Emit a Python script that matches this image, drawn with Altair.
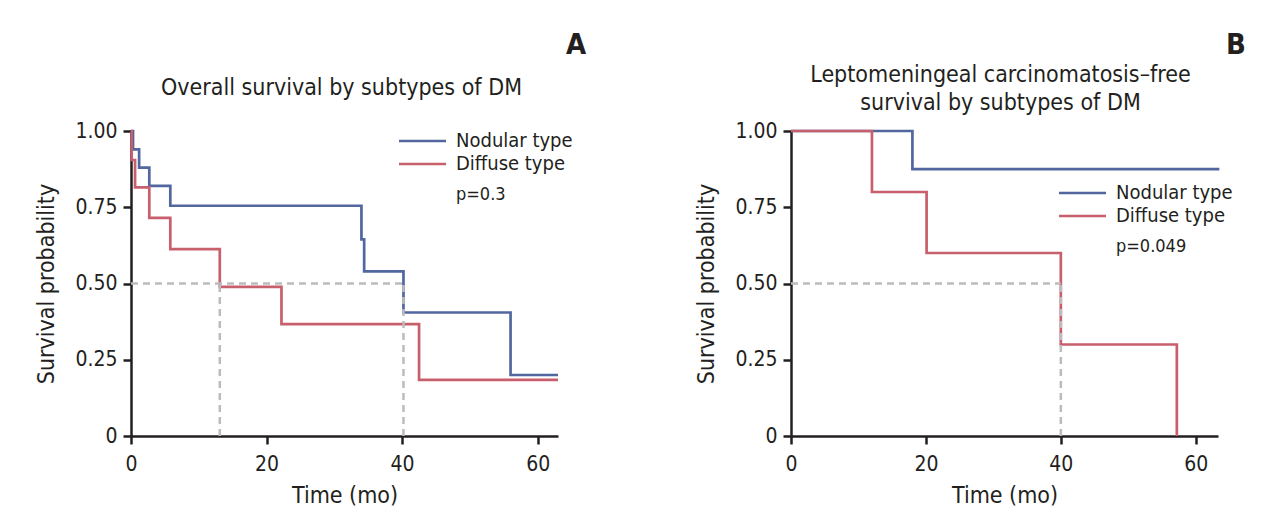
import altair as alt
import pandas as pd

FONT = "Liberation Sans Narrow, DejaVu Sans Condensed, Roboto, sans-serif"
BLUE = "#5266a0"
RED = "#c75f6c"
GRAY = "#bcbcbc"
INK = "#231f20"

GROUPS = ["Nodular type", "Diffuse type"]

# Panel A: overall survival
A_nod_t = [0, 0.3, 1.2, 2.7, 5.8, 34.0, 34.4, 40.2, 56.0, 63.0]
A_nod_s = [1.0, 0.94, 0.88, 0.82, 0.755, 0.645, 0.54, 0.405, 0.20, 0.20]
A_dif_t = [0, 0.1, 0.6, 2.7, 5.8, 13.1, 22.2, 42.5, 63.0]
A_dif_s = [1.0, 0.905, 0.815, 0.715, 0.613, 0.489, 0.367, 0.184, 0.184]
A_medians = [13.1, 40.2]
A_p = "p=0.3"
A_title = ["Overall survival by subtypes of DM"]

# Panel B: leptomeningeal carcinomatosis-free survival
B_nod_t = [0, 18.0, 63.5]
B_nod_s = [1.0, 0.875, 0.875]
B_dif_t = [0, 12.0, 20.1, 40.0, 57.2]
B_dif_s = [1.0, 0.80, 0.60, 0.30, 0.0]
B_medians = [40.0]
B_p = "p=0.049"
B_title = ["Leptomeningeal carcinomatosis\u2013free", "survival by subtypes of DM"]

X_TICKS = [0, 20, 40, 60]
Y_TICKS = [0, 0.25, 0.5, 0.75, 1.0]

W, H = 427, 305
color_scale = alt.Scale(domain=GROUPS, range=[BLUE, RED])
ONE = pd.DataFrame({"k": [0]})


def txt(s, x, y, size, weight="normal", align="left"):
    return alt.Chart(ONE).mark_text(
        align=align, baseline="middle", fontSize=size, fontWeight=weight, font=FONT, color=INK, text=s
    ).encode(x=alt.value(x), y=alt.value(y))


def panel(nod_t, nod_s, dif_t, dif_s, medians, ptxt, title_lines, letter, xmax, leg_y0, p_y):
    curves = pd.concat([
        pd.DataFrame({"t": nod_t, "s": nod_s, "g": GROUPS[0]}),
        pd.DataFrame({"t": dif_t, "s": dif_s, "g": GROUPS[1]}),
    ])
    xs = alt.Scale(domain=[0, xmax], nice=False)
    ys = alt.Scale(domain=[0, 1], nice=False)
    xax = alt.Axis(values=X_TICKS, title="Time (mo)", format="d", labelFlush=False)
    yax = alt.Axis(values=Y_TICKS, title="Survival probability", labelFlush=False,
                   labelExpr="datum.value == 0 ? '0' : format(datum.value, '.2f')")

    base = alt.Chart(curves).mark_line(interpolate="step-after", strokeWidth=2.7).encode(
        x=alt.X("t:Q", scale=xs, axis=xax),
        y=alt.Y("s:Q", scale=ys, axis=yax),
        color=alt.Color("g:N", scale=color_scale, legend=None),
        order="t:Q",
    )

    hz = pd.DataFrame({"x1": [0], "x2": [max(medians)], "y1": [0.5], "y2": [0.5]})
    vt = pd.DataFrame({"x1": medians, "x2": medians, "y1": [0] * len(medians), "y2": [0.5] * len(medians)})
    segs = pd.concat([hz, vt])
    dashed = alt.Chart(segs).mark_rule(color=GRAY, strokeWidth=2.5, strokeDash=[7, 5]).encode(
        x=alt.X("x1:Q", scale=xs, axis=xax), x2="x2:Q",
        y=alt.Y("y1:Q", scale=ys, axis=yax), y2="y2:Q",
    )

    layers = [base, dashed]
    for i, (g, c) in enumerate(zip(GROUPS, [BLUE, RED])):
        yy = leg_y0 + 23 * i
        layers.append(alt.Chart(ONE).mark_rule(strokeWidth=2.7, color=c).encode(
            x=alt.value(268), x2=alt.value(315), y=alt.value(yy)))
        layers.append(txt(g, 325, yy, 20))
    layers.append(txt(ptxt, 325, p_y, 18))

    if len(title_lines) == 1:
        layers.append(txt(title_lines[0], W / 2 - 3, -43, 23, align="center"))
    else:
        for j, line in enumerate(title_lines):
            layers.append(txt(line, W / 2 - 4, -56 + 28 * j, 23, align="center"))
    layers.append(txt(letter, 445, -86, 29, weight="bold", align="center"))

    return alt.layer(*layers).properties(width=W, height=H)


pA = panel(A_nod_t, A_nod_s, A_dif_t, A_dif_s, A_medians, A_p, A_title, "A", 63.0, 10, 64)
pB = panel(B_nod_t, B_nod_s, B_dif_t, B_dif_s, B_medians, B_p, B_title, "B", 63.3, 62, 116)

chart = alt.hconcat(pA, pB, spacing=233, bounds="flush").configure(
    font=FONT,
    padding={"left": 27, "top": 23, "right": 5, "bottom": 5},
).configure_view(stroke=None).configure_axis(
    domainColor=INK, domainWidth=2.5, tickColor=INK, tickWidth=2.5, tickSize=8,
    labelFont=FONT, labelFontSize=21, labelColor=INK, labelPadding=6,
    titleFont=FONT, titleFontSize=23, titleFontWeight="normal", titleColor=INK,
    grid=False,
).configure_axisY(titlePadding=16).configure_axisX(titlePadding=10, labelPadding=9)

chart.save("out.html", embed_options={"renderer": "svg", "actions": False})
